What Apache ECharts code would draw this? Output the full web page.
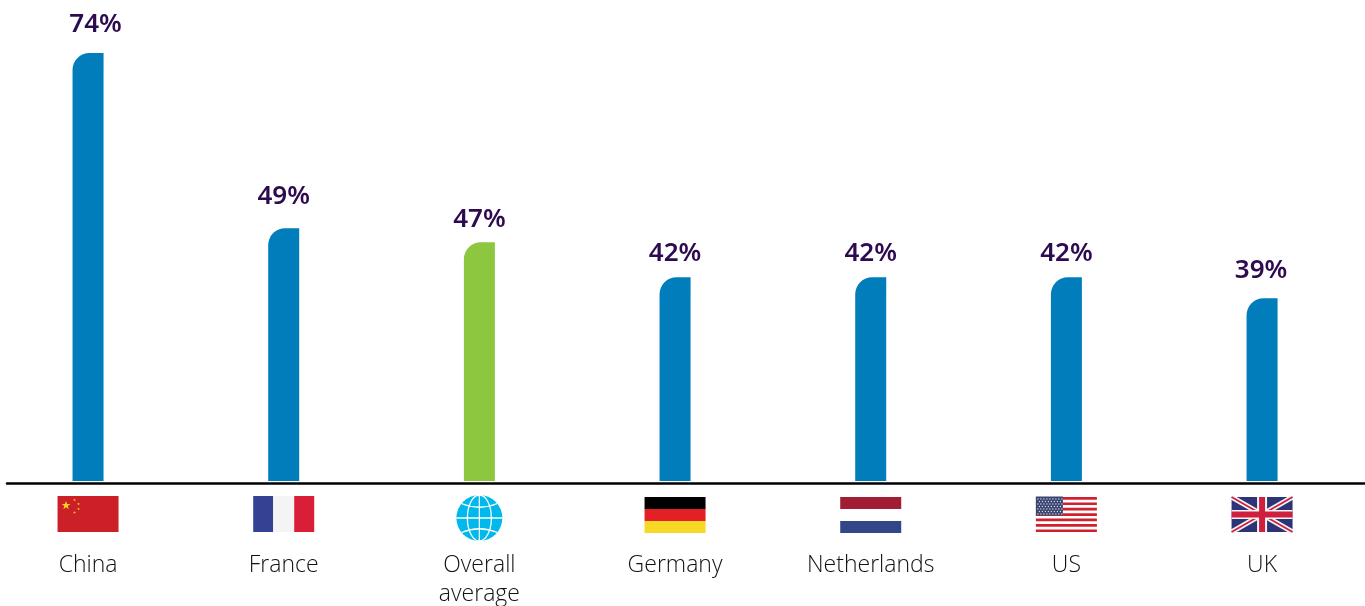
<!DOCTYPE html>
<html><head><meta charset="utf-8">
<style>html,body{margin:0;padding:0;background:#fff}#c{width:1365px;height:606px}</style>
<script src="https://cdn.jsdelivr.net/npm/echarts@6/dist/echarts.min.js"></script>
</head><body><div id="c"></div>
<script>
var categories = ['China','France','Overall\naverage','Germany','Netherlands','US','UK'];
var values = [74,49,47,42,42,42,39];
var flags = ['cn','fr','globe','de','nl','us','uk'];
var labelGaps = [15,19,10,11,11,11,15];
var labelShifts = [7.5,0,0,0,0,0,-1];
var BLUE='#007dba', GREEN='#8dc63f';

function rect(x,y,w,h,fill){return {type:'rect',shape:{x:x,y:y,width:w,height:h},style:{fill:fill}};}
function poly(p,fill){return {type:'polygon',shape:{points:p},style:{fill:fill}};}
function star(cx,cy,r,fill){var p=[];for(var i=0;i<10;i++){var a=-Math.PI/2+i*Math.PI/5,q=i%2?r*0.4:r;p.push([cx+q*Math.cos(a),cy+q*Math.sin(a)]);}return poly(p,fill);}
function line(x1,y1,x2,y2,w,c){return {type:'line',shape:{x1:x1,y1:y1,x2:x2,y2:y2},style:{stroke:c,lineWidth:w}};}
function curve(x1,y1,cx,cy,x2,y2,w,c){return {type:'bezierCurve',shape:{x1:x1,y1:y1,cpx1:cx,cpy1:cy,x2:x2,y2:y2},style:{stroke:c,lineWidth:w,fill:'none'}};}
function drawFlag(k){
  var W=61,H=36,c=[];
  if(k==='cn'){
    c.push(rect(0,0,W,H,'#cb2027'));
    c.push(star(8.5,9.5,4.6,'#f7d51d'));
    [[17,4],[21,8],[21,13],[17,16.5]].forEach(function(s){c.push(star(s[0],s[1],1.5,'#f7d51d'));});
  } else if(k==='fr'){
    c.push(rect(0,0,20,H,'#344294'),rect(20,0,21,H,'#f4f4f4'),rect(41,0,20,H,'#d91f37'));
  } else if(k==='de'){
    c.push(rect(0,1,W,12,'#000'),rect(0,13,W,12,'#e32026'),rect(0,25,W,12,'#f6d924'));
  } else if(k==='nl'){
    c.push(rect(0,1,W,12,'#a11d33'),rect(0,25,W,12,'#32468a'));
  } else if(k==='us'){
    for(var i=0;i<7;i++)c.push(rect(0,1+i*5.4,W,2.7,'#d0202e'));
    c.push(rect(0,0.5,27,19,'#3a4470'));
    for(var r=0;r<7;r++)for(var s=0;s<(r%2?8:9);s++)
      c.push({type:'circle',shape:{cx:2+s*3+(r%2?1.5:0),cy:3+r*2.5,r:0.7},style:{fill:'#d8dbe6'}});
  } else if(k==='uk'){
    c.push(rect(0,1,W,35,'#2c3377'));
    c.push(line(0,1,W,36,5,'#f4f4f4'),line(W,1,0,36,5,'#f4f4f4'));
    c.push(line(0,1,W,36,1.8,'#cf1f3e'),line(W,1,0,36,1.8,'#cf1f3e'));
    c.push(rect(25.5,1,10,35,'#f4f4f4'),rect(0,14,W,9,'#f4f4f4'));
    c.push(rect(27.5,1,6,35,'#cf1f3e'),rect(0,15.5,W,6,'#cf1f3e'));
  } else if(k==='globe'){
    var cx=30.5,cy=22,R=23,L='#fff',G='#00b9ec';
    c.push({type:'circle',shape:{cx:cx,cy:cy,r:R},style:{fill:G}});
    c.push(line(cx,cy-R,cx,cy+R,1.3,L),line(cx-R,cy,cx+R,cy,1.3,L));
    c.push(curve(cx-18,cy-14.5,cx,cy-7,cx+18,cy-14.5,1.3,L),curve(cx-18,cy+14.5,cx,cy+7,cx+18,cy+14.5,1.3,L));
    c.push({type:'ellipse',shape:{cx:cx,cy:cy,rx:12,ry:R},style:{fill:'none',stroke:L,lineWidth:1.3}});
  }
  return c;
}

var chart = echarts.init(document.getElementById('c'),null,{renderer:'canvas'});
var font='"Open Sans",sans-serif';
chart.setOption({
  animation:false,
  grid:[
    {left:-9.8,width:1369.7,top:11,height:470,outerBoundsMode:'none',containLabel:false},
    {left:7,right:0,top:11,height:472.5,outerBoundsMode:'none'}
  ],
  xAxis:[
    {type:'category',gridIndex:0,data:categories,axisLine:{show:false},axisTick:{show:false},
     axisLabel:{interval:0,margin:70,color:'#111',fontFamily:font,fontWeight:300,fontSize:23,lineHeight:29,align:'center',verticalAlign:'top'}},
    {type:'category',gridIndex:1,data:[],axisLine:{show:true,lineStyle:{color:'#000',width:2.5}},axisTick:{show:false},axisLabel:{show:false}}
  ],
  yAxis:[
    {type:'value',gridIndex:0,min:12.9,max:80,show:false,splitLine:{show:false}},
    {type:'value',gridIndex:1,min:0,max:1,show:false,splitLine:{show:false}}
  ],
  series:[
    {type:'bar',xAxisIndex:0,yAxisIndex:0,barWidth:31,silent:true,
     data:values.map(function(v,i){return {value:v,itemStyle:{color:i===2?GREEN:BLUE,borderRadius:[17,0,0,0]},
       label:{distance:labelGaps[i],offset:[labelShifts[i],0]}};}),
     label:{show:true,position:'top',formatter:'{c}%',color:'#2e0a50',fontFamily:'"Noto Sans",sans-serif',fontWeight:600,fontSize:26}},
    {type:'custom',xAxisIndex:0,yAxisIndex:0,silent:true,clip:false,
     data:flags.map(function(k,i){return [i,12.9];}),
     renderItem:function(p,api){
       var pt=api.coord([api.value(0),api.value(1)]);
       return {type:'group',x:pt[0]-30.5,y:pt[1]+15,children:drawFlag(flags[p.dataIndex])};
     }}
  ]
});
</script></body></html>
